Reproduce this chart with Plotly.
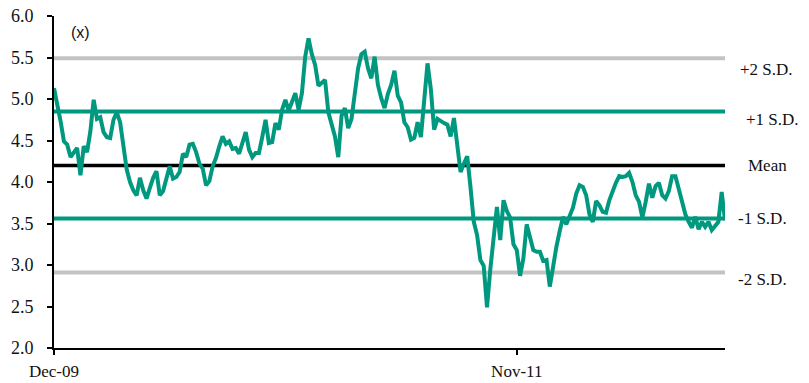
import pandas as pd
import plotly.graph_objects as go

# ---- data ----
start_date = "2009-12-01"
step = "5D"
pe_values = [
    5.13, 4.94, 4.73, 4.49, 4.45, 4.30, 4.36, 4.41, 4.08, 4.43,
    4.36, 4.61, 4.99, 4.76, 4.78, 4.60, 4.54, 4.53, 4.75, 4.84,
    4.72, 4.45, 4.15, 4.00, 3.90, 3.84, 4.05, 3.90, 3.80, 3.93,
    4.05, 4.13, 3.84, 3.89, 4.04, 4.19, 4.04, 4.06, 4.12, 4.34,
    4.30, 4.45, 4.46, 4.36, 4.22, 4.16, 3.96, 4.01, 4.19, 4.29,
    4.43, 4.55, 4.46, 4.49, 4.40, 4.41, 4.34, 4.47, 4.60, 4.39,
    4.30, 4.35, 4.35, 4.54, 4.75, 4.47, 4.48, 4.71, 4.63, 4.87,
    4.99, 4.86, 4.98, 5.07, 4.87, 5.07, 5.51, 5.73, 5.54, 5.41,
    5.16, 5.20, 5.23, 4.84, 4.70, 4.55, 4.30, 4.80, 4.89, 4.65,
    4.76, 5.08, 5.37, 5.54, 5.57, 5.37, 5.25, 5.51, 5.17, 5.01,
    4.89, 5.06, 5.17, 5.34, 5.04, 4.96, 4.72, 4.66, 4.51, 4.53,
    4.72, 4.54, 4.99, 5.43, 5.12, 4.63, 4.76, 4.73, 4.71, 4.69,
    4.55, 4.77, 4.39, 4.12, 4.22, 4.31, 3.94, 3.52, 3.36, 3.06,
    2.99, 2.49, 2.95, 3.30, 3.70, 3.30, 3.78, 3.65, 3.57, 3.25,
    3.18, 2.87, 3.08, 3.49, 3.31, 3.18, 3.16, 3.16, 3.05, 3.06,
    2.74, 2.99, 3.22, 3.41, 3.58, 3.49, 3.60, 3.69, 3.86, 3.96,
    3.94, 3.84, 3.61, 3.52, 3.77, 3.72, 3.64, 3.63, 3.78, 3.90,
    3.99, 4.07, 4.06, 4.07, 4.11, 4.00, 3.84, 3.76, 3.57, 3.76,
    3.98, 3.81, 3.95, 3.99, 3.84, 3.80, 3.89, 4.07, 4.07, 3.92,
    3.78, 3.61, 3.52, 3.45, 3.58, 3.43, 3.52, 3.46, 3.52, 3.42,
    3.47, 3.52, 3.88, 3.54,
]
band_names = ["+2 S.D.", "+1 S.D.", "Mean", "-1 S.D.", "-2 S.D."]
band_values = [5.49, 4.85, 4.20, 3.56, 2.91]
x_tick_dates = ["2009-12-01", "2011-11-01"]
x_tick_labels = ["Dec-09", "Nov-11"]
y_ticks = [2.0, 2.5, 3.0, 3.5, 4.0, 4.5, 5.0, 5.5, 6.0]

dates = pd.date_range(start_date, periods=len(pe_values), freq=step)

TEAL = "#00997F"
GREY = "#C3C3C3"
band_colors = [GREY, TEAL, "#000000", TEAL, GREY]
band_widths = [4, 4, 3.5, 4, 4]

fig = go.Figure()
for name, val, col, w in zip(band_names, band_values, band_colors, band_widths):
    fig.add_trace(go.Scatter(
        x=[dates[0], dates[-1]], y=[val, val], mode="lines",
        line=dict(color=col, width=w), hoverinfo="skip", showlegend=False))

fig.add_trace(go.Scatter(x=dates, y=pe_values, mode="lines",
                         line=dict(color=TEAL, width=4), showlegend=False))

label_offsets = [(1.020, -11), (1.029, -8), (1.032, 0), (1.017, 0), (1.017, -7)]
for name, val, (px, dy) in zip(band_names, band_values, label_offsets):
    fig.add_annotation(x=px, xref="paper", y=val, yref="y", yshift=dy,
                       text=name, showarrow=False, xanchor="left", yanchor="middle",
                       font=dict(family="Liberation Serif", size=17, color="#111111"))

fig.add_annotation(x=0.022, xref="paper", y=5.80, yref="y", text="(x)",
                   showarrow=False, xanchor="left", yanchor="middle",
                   font=dict(family="Liberation Sans", size=16, color="#111111"))

fig.update_layout(
    width=809, height=383,
    margin=dict(l=54, r=84, t=16, b=35, autoexpand=False),
    paper_bgcolor="white", plot_bgcolor="white",
    font=dict(family="Liberation Serif", size=17, color="#111111"),
)
fig.update_xaxes(
    range=[dates[0], dates[-1]], tickvals=x_tick_dates, ticktext=x_tick_labels,
    showgrid=False, zeroline=False, showline=True, linecolor="black", linewidth=2,
    ticks="outside", ticklen=5, tickwidth=2, tickcolor="black", automargin=False,
    tickfont=dict(family="Liberation Serif", size=17), ticklabelstandoff=2,
)
fig.update_yaxes(
    range=[2.0, 6.0], tickvals=y_ticks, tickformat=".1f",
    showgrid=False, zeroline=False, showline=True, linecolor="black", linewidth=2,
    ticks="outside", ticklen=5, tickwidth=2, tickcolor="black", automargin=False,
    tickfont=dict(family="Liberation Serif", size=18), ticklabelstandoff=10,
)

fig.write_html("out.html")
